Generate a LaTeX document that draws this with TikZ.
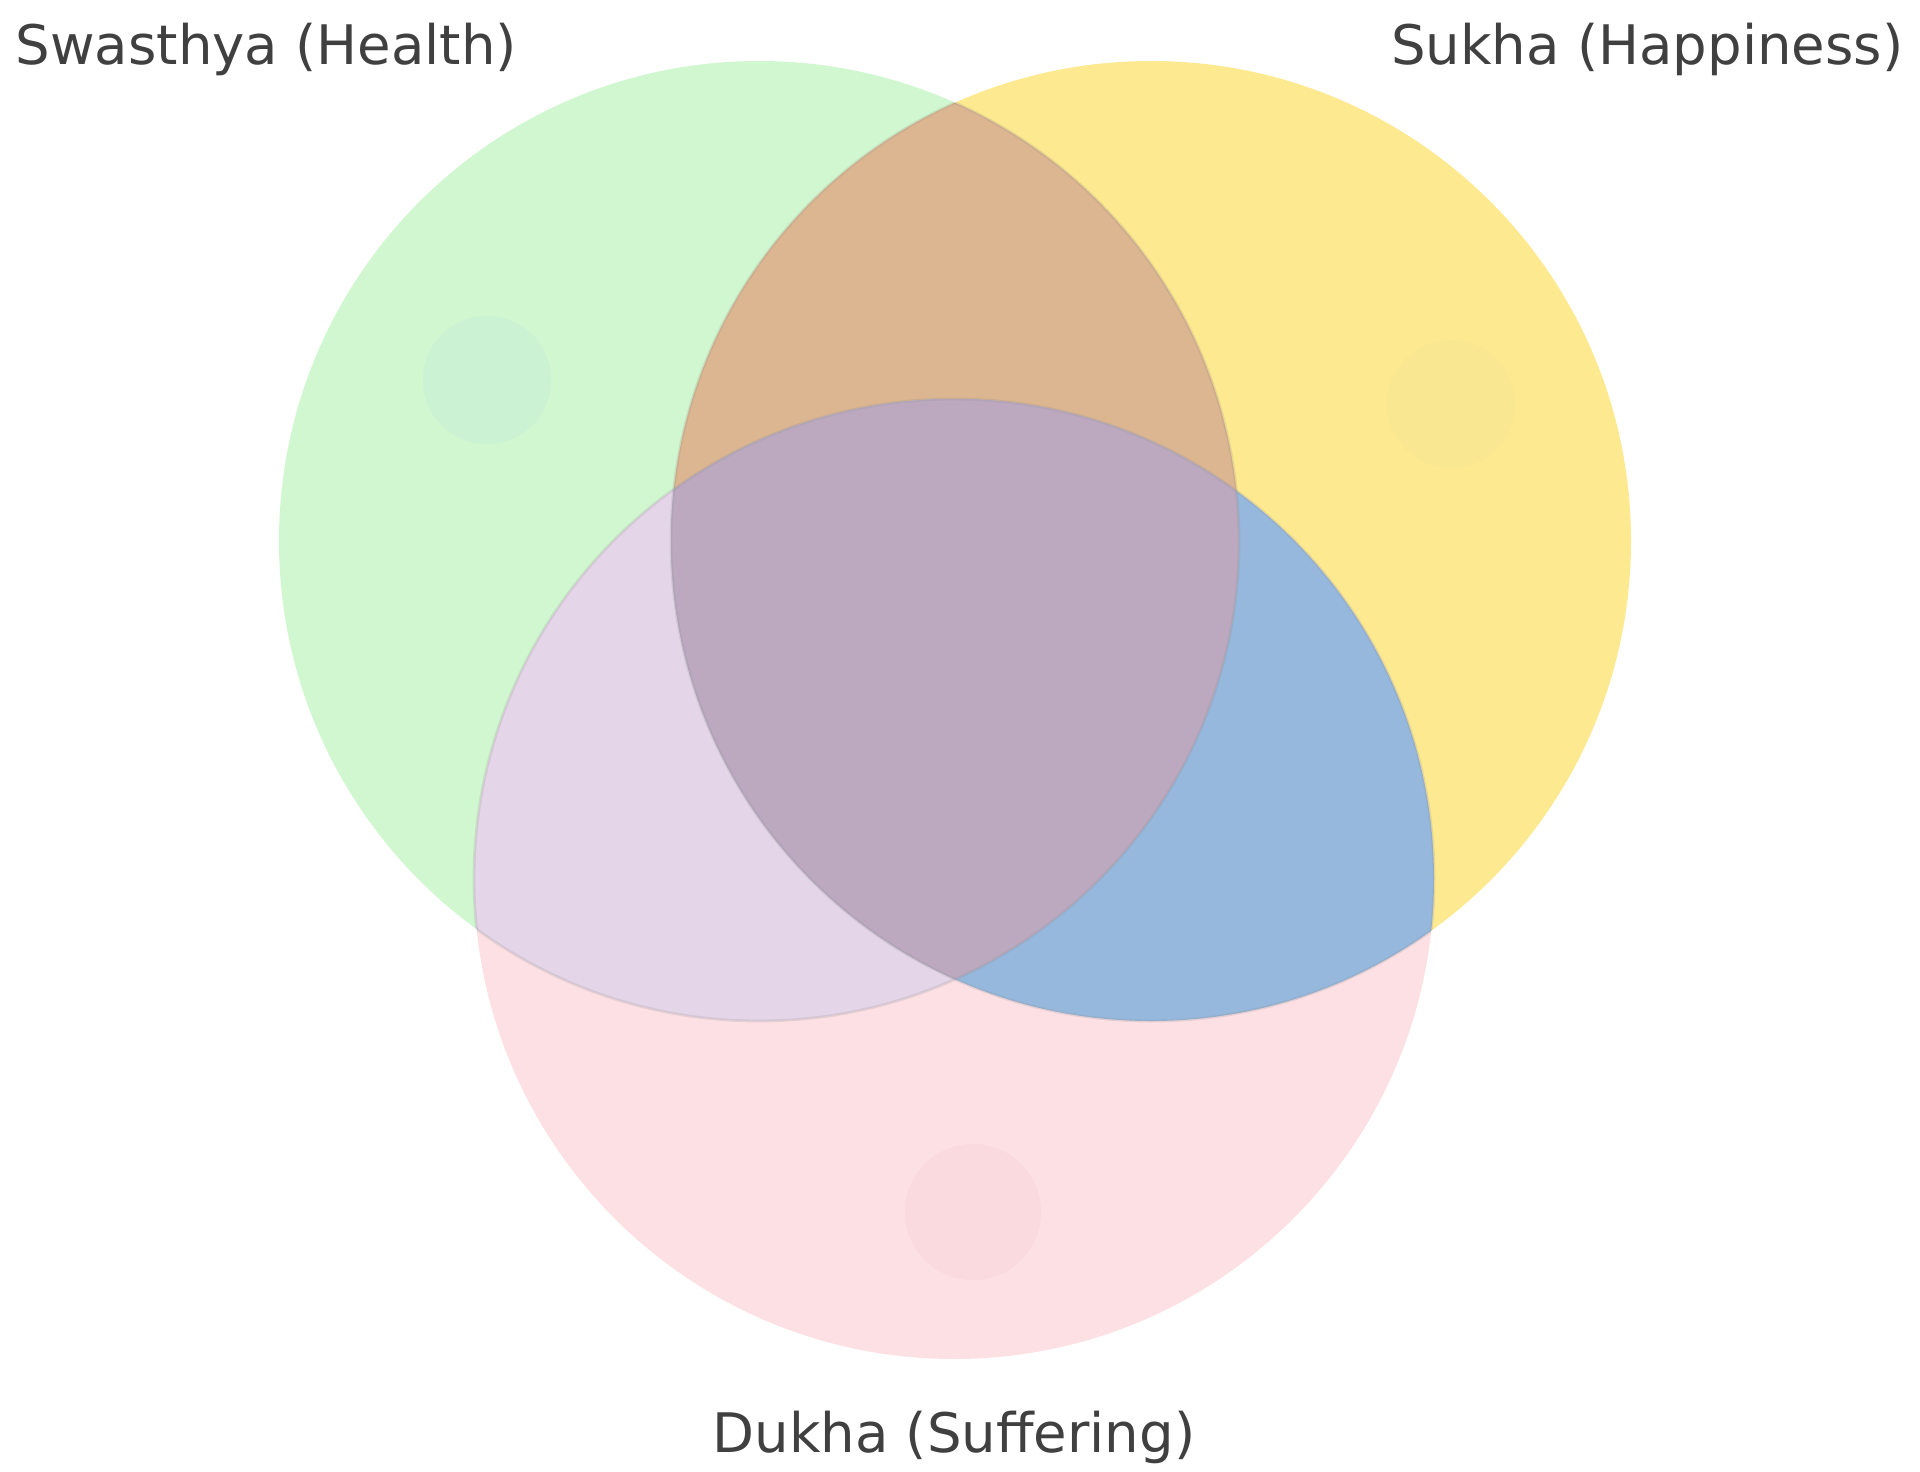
\documentclass[tikz,border=0pt]{standalone}
\usepackage{fontspec}
\setmainfont{DejaVu Sans}
\usepackage{xcolor}
\usetikzlibrary{positioning}

\definecolor{healthgreen}{HTML}{D0F7D0}
\definecolor{sukhayellow}{HTML}{FDE98F}
\definecolor{dukhapink}{HTML}{FDE0E4}
\definecolor{hsmix}{HTML}{DCB591}
\definecolor{hdmix}{HTML}{E5D5E8}
\definecolor{sdmix}{HTML}{96B8DD}
\definecolor{allmix}{HTML}{BCA9C0}
\definecolor{greenpatch}{HTML}{CAF2D3}
\definecolor{yellowpatch}{HTML}{FAE791}
\definecolor{pinkpatch}{HTML}{FAD9DF}
\definecolor{labelgray}{HTML}{404040}

\tikzset{
  setlabel/.style={inner sep=0pt, text=labelgray, font=\fontsize{15.5}{18}\selectfont},
  rim/.style={draw=black!45, draw opacity=0.2, line width=0.8pt}
}

\begin{document}
\begin{tikzpicture}[x=0.01cm,y=-0.01cm]
\useasboundingbox (0,0) rectangle (1920,1472);
\fill[white] (0,0) rectangle (1920,1472);
\coordinate (cH) at (759,541);
\coordinate (cS) at (1151,541);
\coordinate (cD) at (954,879);
% single sets
\fill[healthgreen] (cH) circle (480);
\fill[sukhayellow] (cS) circle (480);
\fill[dukhapink] (cD) circle (480);
% faint label patches
\fill[greenpatch] (487,380) circle (64);
\fill[yellowpatch] (1451,404) circle (64);
\fill[pinkpatch] (973,1212) circle (68);
% overlaps
\begin{scope}
\clip (cH) circle (480);
\fill[hsmix] (cS) circle (480);
\fill[hdmix] (cD) circle (480);
\end{scope}
\begin{scope}
\clip (cS) circle (480);
\fill[sdmix] (cD) circle (480);
\end{scope}
\begin{scope}
\clip (cH) circle (480);
\clip (cS) circle (480);
\fill[allmix] (cD) circle (480);
\end{scope}
% rims inside the other sets
\begin{scope}
\clip (cS) circle (480) (cD) circle (480);
\draw[rim] (cH) circle (480);
\end{scope}
\begin{scope}
\clip (cH) circle (480) (cD) circle (480);
\draw[rim] (cS) circle (480);
\end{scope}
\begin{scope}
\clip (cH) circle (480) (cS) circle (480);
\draw[rim] (cD) circle (480);
\end{scope}
% set names
\node[setlabel, anchor=base west] (health) at (15,64) {Swasthya (Health)};
\node[setlabel, anchor=base east] (sukha) at (1904,64) {Sukha (Happiness)};
\node[setlabel, anchor=base] (dukha) at (954,1452) {Dukha (Suffering)};
\end{tikzpicture}
\end{document}
